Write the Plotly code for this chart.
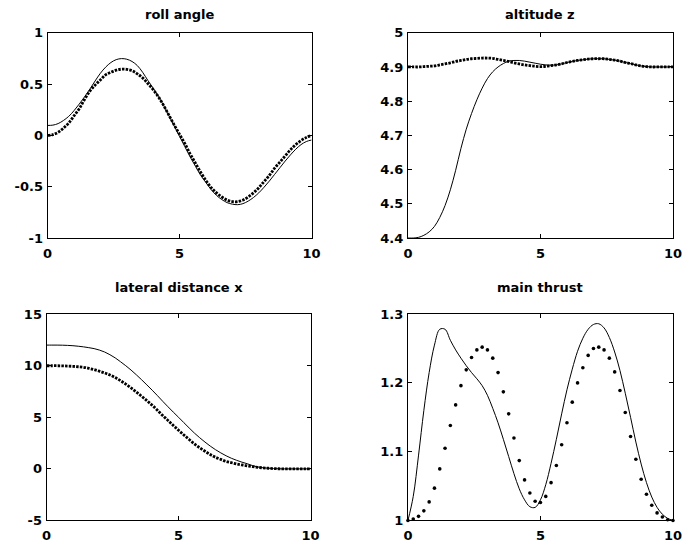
import plotly.graph_objects as go

t = [0.0, 0.2, 0.4, 0.6, 0.8, 1.0, 1.2, 1.4, 1.6, 1.8,
     2.0, 2.2, 2.4, 2.6, 2.8, 3.0, 3.2, 3.4, 3.6, 3.8,
     4.0, 4.2, 4.4, 4.6, 4.8, 5.0, 5.2, 5.4, 5.6, 5.8,
     6.0, 6.2, 6.4, 6.6, 6.8, 7.0, 7.2, 7.4, 7.6, 7.8,
     8.0, 8.2, 8.4, 8.6, 8.8, 9.0, 9.2, 9.4, 9.6, 9.8, 10.0]

roll_ref = [0.00, 0.008, 0.03, 0.07, 0.12, 0.19, 0.26, 0.35, 0.43, 0.49,
            0.54, 0.59, 0.615, 0.635, 0.645, 0.643, 0.63, 0.60, 0.56, 0.505,
            0.445, 0.375, 0.29, 0.195, 0.10, 0.01, -0.08, -0.18, -0.27, -0.36,
            -0.44, -0.51, -0.56, -0.60, -0.63, -0.645, -0.645, -0.63, -0.60, -0.56,
            -0.51, -0.45, -0.39, -0.32, -0.26, -0.20, -0.14, -0.09, -0.05, -0.02, 0.00]
roll_act = [0.097, 0.10, 0.115, 0.145, 0.185, 0.24, 0.305, 0.375, 0.45, 0.53,
            0.605, 0.665, 0.71, 0.738, 0.748, 0.742, 0.72, 0.68, 0.615, 0.535,
            0.46, 0.38, 0.29, 0.19, 0.09, -0.01, -0.11, -0.21, -0.30, -0.39,
            -0.46, -0.53, -0.585, -0.625, -0.655, -0.67, -0.675, -0.665, -0.64, -0.605,
            -0.56, -0.505, -0.445, -0.38, -0.315, -0.25, -0.19, -0.135, -0.09, -0.06, -0.045]

alt_ref = [4.900, 4.900, 4.900, 4.901, 4.902, 4.903, 4.906, 4.909, 4.912, 4.916,
           4.919, 4.922, 4.924, 4.925, 4.926, 4.926, 4.925, 4.922, 4.919, 4.916,
           4.912, 4.909, 4.906, 4.904, 4.902, 4.901, 4.902, 4.904, 4.906, 4.909,
           4.913, 4.916, 4.919, 4.921, 4.923, 4.924, 4.924, 4.924, 4.922, 4.920,
           4.917, 4.913, 4.910, 4.906, 4.903, 4.901, 4.900, 4.900, 4.900, 4.900, 4.900]
alt_act = [4.400, 4.400, 4.402, 4.408, 4.418, 4.434, 4.460, 4.495, 4.541, 4.598,
           4.662, 4.718, 4.764, 4.804, 4.838, 4.866, 4.886, 4.900, 4.910, 4.917,
           4.919, 4.919, 4.917, 4.914, 4.911, 4.908, 4.906, 4.905, 4.906, 4.909,
           4.913, 4.916, 4.919, 4.921, 4.923, 4.924, 4.924, 4.924, 4.922, 4.920,
           4.917, 4.913, 4.910, 4.906, 4.903, 4.901, 4.900, 4.900, 4.900, 4.900, 4.900]

lat_ref = [10.00, 10.00, 10.00, 9.99, 9.97, 9.94, 9.90, 9.85, 9.75, 9.62,
           9.47, 9.30, 9.10, 8.85, 8.55, 8.22, 7.85, 7.45, 7.04, 6.62,
           6.17, 5.68, 5.17, 4.70, 4.21, 3.74, 3.29, 2.85, 2.42, 2.05,
           1.71, 1.39, 1.12, 0.92, 0.72, 0.60, 0.48, 0.38, 0.30, 0.22,
           0.15, 0.10, 0.06, 0.03, 0.01, 0.00, 0.00, 0.00, 0.00, 0.00, 0.00]
lat_act = [12.00, 12.00, 12.00, 11.99, 11.97, 11.94, 11.89, 11.83, 11.75, 11.66,
           11.52, 11.33, 11.07, 10.76, 10.39, 10.00, 9.58, 9.12, 8.64, 8.14,
           7.63, 7.10, 6.55, 6.02, 5.50, 5.00, 4.48, 3.97, 3.47, 3.02,
           2.60, 2.21, 1.86, 1.55, 1.27, 1.03, 0.83, 0.65, 0.50, 0.32,
           0.18, 0.11, 0.06, 0.03, 0.01, 0.00, 0.00, 0.00, 0.00, 0.00, 0.00]

thr_ref = [1.000, 1.002, 1.006, 1.014, 1.027, 1.047, 1.075, 1.105, 1.138, 1.168,
           1.196, 1.219, 1.237, 1.248, 1.252, 1.248, 1.236, 1.215, 1.187, 1.155,
           1.120, 1.087, 1.059, 1.040, 1.028, 1.026, 1.035, 1.055, 1.080, 1.110,
           1.142, 1.172, 1.200, 1.222, 1.240, 1.250, 1.252, 1.248, 1.236, 1.216,
           1.189, 1.157, 1.122, 1.089, 1.060, 1.038, 1.022, 1.011, 1.005, 1.001, 1.000]
thr_act = [1.000, 1.035, 1.095, 1.160, 1.215, 1.255, 1.278, 1.278, 1.262, 1.248,
           1.236, 1.225, 1.215, 1.206, 1.196, 1.182, 1.163, 1.142, 1.118, 1.093,
           1.068, 1.046, 1.030, 1.020, 1.019, 1.030, 1.052, 1.083, 1.118, 1.155,
           1.190, 1.220, 1.246, 1.265, 1.278, 1.285, 1.286, 1.280, 1.266, 1.245,
           1.218, 1.185, 1.150, 1.114, 1.082, 1.055, 1.034, 1.019, 1.009, 1.003, 1.000]

titles = ["roll angle", "altitude z", "lateral distance x", "main thrust"]
x_ticks = [0, 5, 10]
x_ticktext = ["0", "5", "10"]
roll_ticks = [-1, -0.5, 0, 0.5, 1]
roll_ticktext = ["-1", "-0.5", "0", "0.5", "1"]
alt_ticks = [4.4, 4.5, 4.6, 4.7, 4.8, 4.9, 5.0]
alt_ticktext = ["4.4", "4.5", "4.6", "4.7", "4.8", "4.9", "5"]
lat_ticks = [-5, 0, 5, 10, 15]
lat_ticktext = ["-5", "0", "5", "10", "15"]
thr_ticks = [1.0, 1.1, 1.2, 1.3]
thr_ticktext = ["1", "1.1", "1.2", "1.3"]

W, H = 692, 544
FONT = "DejaVu Sans, Arial, Helvetica, sans-serif"

# observed mapping of the page into the photographed image
OX, SX = 5.6, 0.976
OY, SY = 7.3, 0.971

def px(xi):
    return (xi - OX) / SX / W

def py(yi):
    return 1 - (yi - OY) / SY / H

# target panel boxes in image pixels: (left, right, top, bottom)
boxes = [(48, 311, 33, 238), (407, 671, 33, 238),
         (47, 310, 314, 520), (407, 671, 314, 520)]
title_y = [15, 15, 287, 287]

fig = go.Figure()

series = [(roll_ref, roll_act), (alt_ref, alt_act), (lat_ref, lat_act), (thr_ref, thr_act)]
yranges = [[-1, 1], [4.4, 5.0], [-5, 15], [1.0, 1.3]]
yticks = [(roll_ticks, roll_ticktext), (alt_ticks, alt_ticktext),
          (lat_ticks, lat_ticktext), (thr_ticks, thr_ticktext)]

for i in range(4):
    xa = "x" if i == 0 else f"x{i+1}"
    ya = "y" if i == 0 else f"y{i+1}"
    ref, act = series[i]
    if i == 3:
        fig.add_trace(go.Scatter(x=t, y=ref, mode="markers", xaxis=xa, yaxis=ya,
                                 marker=dict(color="black", size=3.6), showlegend=False,
                                 cliponaxis=False))
    else:
        fig.add_trace(go.Scatter(x=t, y=ref, mode="lines", xaxis=xa, yaxis=ya,
                                 line=dict(color="black", width=2.8, dash="2.5px,1.2px", shape="spline"),
                                 showlegend=False))
    fig.add_trace(go.Scatter(x=t, y=act, mode="lines", xaxis=xa, yaxis=ya,
                             line=dict(color="black", width=1, shape="spline"),
                             showlegend=False))
    l, r, tp, bt = boxes[i]
    xd = [px(l), px(r)]
    yd = [py(bt), py(tp)]
    axcommon = dict(showline=True, linecolor="black", linewidth=1, mirror="ticks",
                    ticks="inside", ticklen=4, tickcolor="black", tickwidth=1,
                    showgrid=False, zeroline=False,
                    tickfont=dict(family=FONT, size=13, color="black", weight="bold"))
    xkey = "xaxis" if i == 0 else f"xaxis{i+1}"
    ykey = "yaxis" if i == 0 else f"yaxis{i+1}"
    fig.update_layout({
        xkey: dict(domain=xd, range=[0, 10], tickvals=x_ticks, ticktext=x_ticktext,
                   anchor=ya, ticklabelstandoff=3, **axcommon),
        ykey: dict(domain=yd, range=yranges[i], tickvals=yticks[i][0], ticktext=yticks[i][1],
                   anchor=xa, ticklabelstandoff=1, **axcommon),
    })
    fig.add_annotation(text=titles[i], xref="paper", yref="paper",
                       x=px((l + r) / 2), y=py(title_y[i]),
                       xanchor="center", yanchor="middle", showarrow=False,
                       font=dict(family=FONT, size=13, color="black", weight="bold"))

fig.update_layout(width=W, height=H, margin=dict(l=0, r=0, t=0, b=0),
                  paper_bgcolor="white", plot_bgcolor="white")

fig.write_html("out.html", config={"displayModeBar": False},
               post_script="document.body.style.margin='0px';")
